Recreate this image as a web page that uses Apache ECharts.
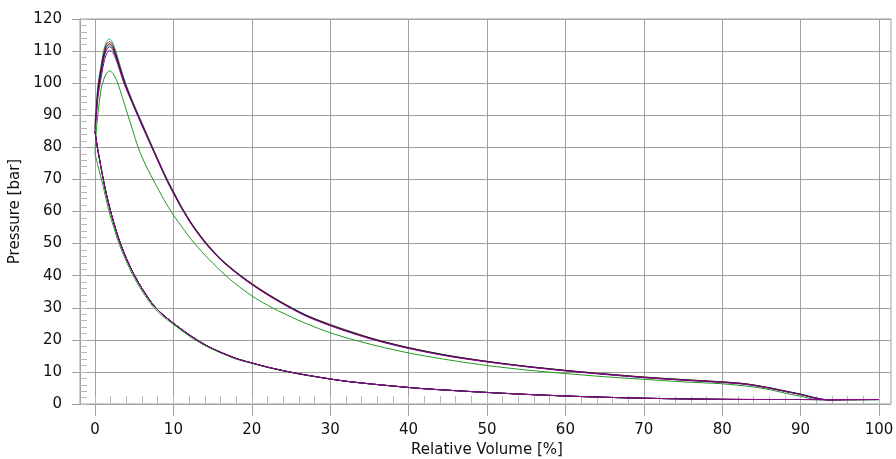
<!DOCTYPE html>
<html>
<head>
<meta charset="utf-8">
<script src="https://cdn.jsdelivr.net/npm/echarts@6/dist/echarts.min.js"></script>
<style>
  html, body { margin: 0; padding: 0; background: #ffffff; }
  #chart { width: 896px; height: 459px; }
</style>
</head>
<body>
<div id="chart"></div>
<script>
// ---- Data (Relative Volume [%] vs Pressure [bar]) ----
const volumeExpansion = [0, 0.13, 0.4, 0.77, 1.1, 1.4, 1.84, 2.3, 2.9, 3.7, 4.6, 5.5, 6.4, 7.3, 8.2, 9.0, 10, 11.1, 12.5, 14.2, 16, 18, 20, 22, 24.6, 27, 30, 33, 36, 40, 45, 50, 55, 60, 65, 70, 75, 80, 83, 86, 88, 90, 92, 93.5, 96, 100];
const volumeExpansionGreen = [0, 0.13, 0.4, 0.77, 1.1, 1.4, 1.84, 2.3, 2.9, 3.5, 4.2, 4.8, 5.5, 6.4, 7.4, 8.5, 9.7, 11, 12.7, 14.5, 16.6, 18, 20, 22, 24.6, 27, 30, 33, 36, 40, 42.7, 46, 50, 55, 60, 65, 70, 75, 80, 84, 86, 88, 90, 92, 93, 96, 100];
const volumeCompression = [100, 95, 90, 85, 80, 75, 70, 65, 60, 55, 50, 45, 41.5, 38, 35, 32, 30, 27, 24.6, 22, 20, 18, 15.5, 13.8, 12, 10, 8.5, 7.4, 6, 4.8, 3.9, 3.1, 2.4, 1.84, 1.4, 0.98, 0.6, 0.3, 0];

const pressureCompression      = [1.35, 1.35, 1.4, 1.4, 1.45, 1.6, 1.8, 2.1, 2.5, 3.0, 3.6, 4.3, 4.85, 5.6, 6.3, 7.1, 7.8, 9.0, 10.1, 11.5, 12.8, 14.2, 16.7, 18.8, 21.6, 25.2, 28.2, 31.0, 36, 41.2, 46, 51, 56.5, 61.5, 66, 71, 76, 80, 85];
const pressureCompressionGreen = [1.35, 1.35, 1.4, 1.4, 1.45, 1.6, 1.8, 2.1, 2.5, 3.0, 3.6, 4.3, 4.85, 5.6, 6.3, 7.1, 7.8, 8.9, 10.0, 11.4, 12.7, 14.0, 16.5, 18.5, 21.2, 24.8, 27.7, 30.4, 35.2, 40.3, 45, 49.8, 55, 59.5, 64, 68.5, 72, 75, 78];

const pressureGreen  = [78, 84, 91, 98, 101, 102.8, 103.8, 103, 100, 95.5, 90, 85.4, 80, 74.8, 70, 65, 60, 55.5, 50, 45.2, 40.2, 37.3, 33.7, 30.8, 27.6, 25, 22.2, 20, 18.1, 15.9, 14.7, 13.4, 12, 10.6, 9.5, 8.5, 7.7, 6.9, 6.3, 5.3, 4.5, 3.4, 2.4, 1.4, 1.35, 1.35, 1.35];
const pressureTeal   = [88, 92, 100, 105.5, 110, 112.6, 113.8, 112.4, 108, 101.5, 95.6, 90.4, 85.4, 80.3, 75.4, 71.1, 66.3, 61.3, 55.7, 50.2, 45.4, 41.2, 37.6, 34.4, 30.7, 27.7, 24.8, 22.3, 20.0, 17.6, 15.2, 13.3, 11.8, 10.5, 9.4, 8.4, 7.6, 6.9, 6.3, 5.1, 4.1, 3.1, 1.9, 1.35, 1.4, 1.4];
const pressureOlive  = [85, 89.5, 97.5, 103.5, 108, 110.6, 111.8, 110.7, 106.6, 100.5, 95, 89.9, 84.9, 80, 75.1, 70.8, 66, 61, 55.5, 50, 45.3, 41.1, 37.5, 34.3, 30.6, 27.5, 24.7, 22.2, 19.9, 17.6, 15.1, 13.3, 11.8, 10.5, 9.4, 8.4, 7.6, 6.9, 6.3, 5.1, 4.1, 3.1, 1.9, 1.3, 1.4, 1.4];
const pressureRed    = [87, 91, 99, 104.8, 109.3, 111.8, 113, 111.7, 107.4, 101, 95.3, 90.1, 85.1, 80.1, 75.2, 70.9, 66.1, 61.1, 55.6, 50.1, 45.3, 41.1, 37.5, 34.3, 30.6, 27.6, 24.7, 22.2, 20.0, 17.5, 15.1, 13.3, 11.7, 10.5, 9.4, 8.4, 7.6, 6.9, 6.3, 5.0, 4.0, 3.0, 1.8, 1.3, 1.4, 1.4];
const pressureBlue   = [85.5, 89.5, 97.5, 103, 107.5, 110, 111.3, 110.4, 106.4, 100.3, 94.9, 89.7, 84.7, 79.8, 74.9, 70.6, 65.8, 60.9, 55.4, 49.9, 45.1, 40.9, 37.3, 34.1, 30.4, 27.4, 24.5, 22, 19.8, 17.4, 15, 13.2, 11.7, 10.4, 9.3, 8.3, 7.5, 6.8, 6.2, 5.0, 4.0, 3.0, 1.8, 1.3, 1.4, 1.4];
const pressureBlack  = [86, 90, 98, 104, 108.5, 111, 112.3, 111, 106.8, 100.6, 95, 89.8, 84.8, 79.9, 75, 70.8, 66, 61, 55.5, 50, 45.2, 41, 37.4, 34.2, 30.5, 27.5, 24.6, 22.1, 19.9, 17.5, 15.1, 13.2, 11.7, 10.4, 9.3, 8.3, 7.5, 6.8, 6.2, 5.0, 4.0, 3.0, 1.8, 1.3, 1.4, 1.4];
const pressurePurple = [84.5, 88.5, 96, 101.5, 106, 108.7, 110.2, 109.5, 105.8, 99.9, 94.6, 89.5, 84.5, 79.6, 74.7, 70.4, 65.6, 60.7, 55.2, 49.7, 45, 40.8, 37.2, 34, 30.3, 27.3, 24.4, 21.9, 19.7, 17.3, 14.9, 13.1, 11.6, 10.3, 9.2, 8.2, 7.4, 6.7, 6.1, 4.9, 3.9, 2.9, 1.7, 1.3, 1.4, 1.4];

const xTickValues = [0, 10, 20, 30, 40, 50, 60, 70, 80, 90, 100];
const yTickValues = [0, 10, 20, 30, 40, 50, 60, 70, 80, 90, 100, 110, 120];

const cycles = [
  { color: '#1e9a1e', vUp: volumeExpansionGreen, pUp: pressureGreen,  pDown: pressureCompressionGreen },
  { color: '#22a5a5', vUp: volumeExpansion,      pUp: pressureTeal,   pDown: pressureCompression },
  { color: '#a0a030', vUp: volumeExpansion,      pUp: pressureOlive,  pDown: pressureCompression },
  { color: '#b41818', vUp: volumeExpansion,      pUp: pressureRed,    pDown: pressureCompression },
  { color: '#2020c8', vUp: volumeExpansion,      pUp: pressureBlue,   pDown: pressureCompression },
  { color: '#1a1a1a', vUp: volumeExpansion,      pUp: pressureBlack,  pDown: pressureCompression },
  { color: '#900a90', vUp: volumeExpansion,      pUp: pressurePurple, pDown: pressureCompression }
];

// ---- Chart ----
const FONT = 'DejaVu Sans, Liberation Sans, sans-serif';
const GRID_COLOR = '#a0a0a0';
const chart = echarts.init(document.getElementById('chart'), null, { renderer: 'canvas' });

const series = cycles.map(function (c) {
  const pts = [];
  c.vUp.forEach(function (v, i) { pts.push([v, c.pUp[i]]); });
  volumeCompression.forEach(function (v, i) { pts.push([v, c.pDown[i]]); });
  return {
    type: 'line',
    xAxisIndex: 1,
    yAxisIndex: 2,
    data: pts,
    showSymbol: false,
    symbol: 'none',
    smooth: 0.3,
    animation: false,
    lineStyle: { color: c.color, width: 1 },
    itemStyle: { color: c.color },
    z: 3
  };
});

chart.setOption({
  animation: false,
  backgroundColor: '#ffffff',
  grid: [
    { left: 80, right: 5, top: 19, bottom: 55, containLabel: false, outerBoundsMode: 'none',
      show: true, borderColor: GRID_COLOR, borderWidth: 1 },
    { left: 95, right: 17, top: 19, bottom: 55, containLabel: false, outerBoundsMode: 'none' }
  ],
  xAxis: [
    { gridIndex: 0, type: 'value', min: 0, max: 1, show: false },
    {
      gridIndex: 1, type: 'value', min: 0, max: 100, interval: 10, position: 'bottom',
      axisLine: { show: false },
      axisTick: { show: true, length: 12, lineStyle: { color: GRID_COLOR } },
      axisLabel: { show: true, margin: 19, fontSize: 15, color: '#111', fontFamily: FONT,
                   formatter: function (v) { return xTickValues.indexOf(v) >= 0 ? String(v) : ''; } },
      splitLine: { show: true, lineStyle: { color: GRID_COLOR, width: 1 } },
      name: 'Relative Volume [%]', nameLocation: 'middle', nameGap: 34,
      nameTextStyle: { fontSize: 15, color: '#111', fontFamily: FONT }
    },
    {
      gridIndex: 1, type: 'value', min: 0, max: 100, interval: 2, position: 'bottom',
      axisLine: { show: false },
      axisTick: { show: true, inside: true, length: 8, lineStyle: { color: '#b8b8b8' } },
      axisLabel: { show: false },
      splitLine: { show: false }
    }
  ],
  yAxis: [
    {
      gridIndex: 0, type: 'value', min: 0, max: 120, interval: 10, position: 'left',
      axisLine: { show: true, lineStyle: { color: GRID_COLOR } },
      axisTick: { show: true, length: 8, lineStyle: { color: GRID_COLOR } },
      axisLabel: { show: true, margin: 18, fontSize: 15, color: '#111', fontFamily: FONT,
                   formatter: function (v) { return yTickValues.indexOf(v) >= 0 ? String(v) : ''; } },
      splitLine: { show: true, lineStyle: { color: GRID_COLOR, width: 1 } },
      name: 'Pressure [bar]', nameLocation: 'middle', nameGap: 50, nameRotate: 90,
      nameTextStyle: { fontSize: 15, color: '#111', fontFamily: FONT }
    },
    {
      gridIndex: 0, type: 'value', min: 0, max: 120, interval: 2, position: 'left',
      axisLine: { show: false },
      axisTick: { show: true, inside: true, length: 7, lineStyle: { color: '#b8b8b8' } },
      axisLabel: { show: false },
      splitLine: { show: false }
    },
    { gridIndex: 1, type: 'value', min: 0, max: 120, show: false }
  ],
  series: series
});
</script>
</body>
</html>
